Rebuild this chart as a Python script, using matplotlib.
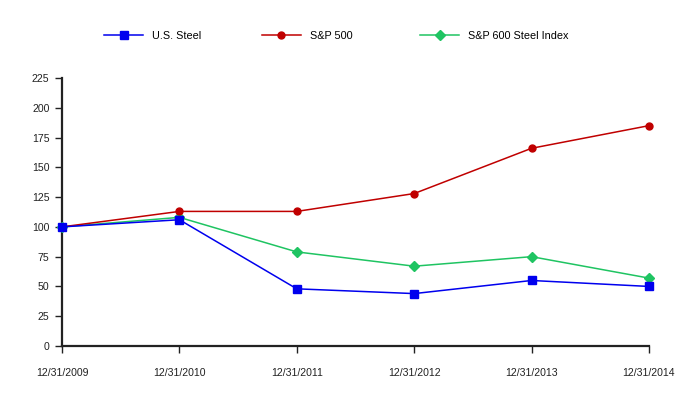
import matplotlib
matplotlib.use("Agg")
import matplotlib.pyplot as plt

plt.rcParams['font.family'] = ['Liberation Sans', 'DejaVu Sans']

fechas = ["12/31/2009", "12/31/2010", "12/31/2011", "12/31/2012", "12/31/2013", "12/31/2014"]
us_steel = [100, 106, 48, 44, 55, 50]
sp500 = [100, 113, 113, 128, 166, 185]
sp600_steel = [100, 108, 79, 67, 75, 57]

x = list(range(len(fechas)))

fig = plt.figure(figsize=(6.82, 4.0), dpi=100)
ax = fig.add_axes([0.0909, 0.135, 0.8607, 0.67])

l3, = ax.plot(x, sp600_steel, color="#1fc462", marker="D", markersize=5, linewidth=1.1,
              label="S&P 600 Steel Index", clip_on=False, zorder=3)
l2, = ax.plot(x, sp500, color="#c00000", marker="o", markersize=5, linewidth=1.1,
              label="S&P 500", clip_on=False, zorder=4)
l1, = ax.plot(x, us_steel, color="#0000ee", marker="s", markersize=5.5, linewidth=1.1,
              label="U.S. Steel", clip_on=False, zorder=5)

ax.set_xlim(0, 5)
ax.set_ylim(0, 225)
ax.set_yticks(range(0, 226, 25))
ax.set_xticks(x)
ax.set_xticklabels(fechas)
ax.spines["top"].set_visible(False)
ax.spines["right"].set_visible(False)
ax.spines["left"].set_linewidth(1.6)
ax.spines["bottom"].set_linewidth(1.6)
ax.spines["left"].set_color("#222222")
ax.spines["bottom"].set_color("#222222")
ax.tick_params(axis="x", length=5, width=1, pad=11, labelsize=7.6, colors="#222222")
ax.tick_params(axis="y", length=5, width=1, pad=4, labelsize=7.6, colors="#222222")

# leyenda: tres entradas separadas, igual que el original
for linea, xpos in [(l1, 0.1525), (l2, 0.384), (l3, 0.616)]:
    fig.legend([linea], [linea.get_label()], loc="center left",
               bbox_to_anchor=(xpos, 0.91), frameon=False, fontsize=7.8,
               handlelength=3.6, handletextpad=0.8, borderpad=0, borderaxespad=0)

fig.savefig("out.png", dpi=100)
